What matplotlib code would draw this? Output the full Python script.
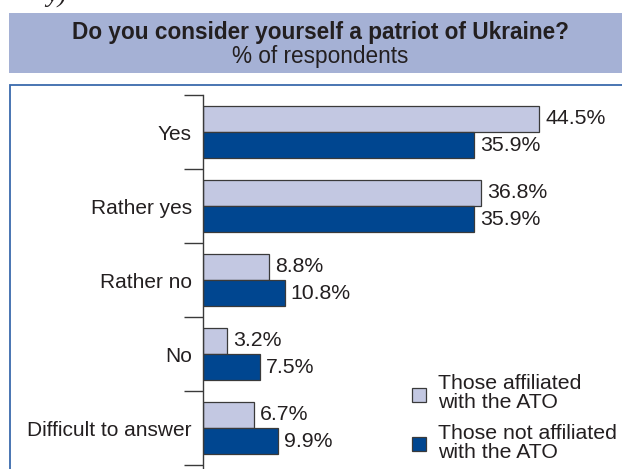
import matplotlib
matplotlib.use("Agg")
import matplotlib.pyplot as plt
from matplotlib.patches import Rectangle

# Survey data
categories = ["Yes", "Rather yes", "Rather no", "No", "Difficult to answer"]
affiliated = [44.5, 36.8, 8.8, 3.2, 6.7]
not_affiliated = [35.9, 35.9, 10.8, 7.5, 9.9]
series_labels = ["Those affiliated\nwith the ATO", "Those not affiliated\nwith the ATO"]
title = "Do you consider yourself a patriot of Ukraine?"
subtitle = "% of respondents"

LIGHT = "#C3C8E2"
DARK = "#004690"
EDGE = "#3a3a3a"
TEXT = "#231F20"
FONT = "Liberation Sans"

W, H = 622, 469
fig = plt.figure(figsize=(W / 100, H / 100), dpi=100)
plt.rcParams["font.family"] = FONT


def fx(px):
    return px / W


def fy(py):
    return 1 - py / H


# Header band
fig.add_artist(Rectangle((fx(9), fy(73)), fx(640) - fx(9), fy(13) - fy(73),
                         transform=fig.transFigure, facecolor="#A5B1D5",
                         edgecolor="none"))
fig.text(fx(320), fy(32.5), title, ha="center", va="center", fontsize=16.3,
         fontweight="bold", color=TEXT)
fig.text(fx(320), fy(56.5), subtitle, ha="center", va="center", fontsize=16.3,
         color=TEXT)

# Fragment of preceding page text
fig.text(fx(46), fy(3), "y)", ha="left", va="baseline", fontsize=19,
         family="Liberation Serif", style="italic", color=TEXT)

# Chart frame
fig.add_artist(Rectangle((fx(10), fy(490)), fx(700) - fx(10), fy(85.5) - fy(490),
                         transform=fig.transFigure, facecolor="none",
                         edgecolor="#3A6AAD", linewidth=1.3))

# Bar axes
ax_left, ax_top = 203, 95
ax = fig.add_axes([fx(ax_left), 0, fx(W) - fx(ax_left), fy(ax_top)])
ax.patch.set_alpha(0)
px_per_unit = 74
px_per_pct = 7.55
ax.set_ylim((H - ax_top) / px_per_unit, 0)
ax.set_xlim(0, (W - ax_left) / px_per_pct)

n = len(categories)
pos = list(range(n))
h = 0.355
ax.barh([p + 0.32 for p in pos], affiliated, height=h, color=LIGHT,
        edgecolor=EDGE, linewidth=0.9)
ax.barh([p + 0.68 for p in pos], not_affiliated, height=h, color=DARK,
        edgecolor=EDGE, linewidth=0.9)

for p, a, b in zip(pos, affiliated, not_affiliated):
    ax.text(a + 0.8, p + 0.32, f"{a:.1f}%", ha="left", va="center",
            fontsize=15.3, color=TEXT)
    ax.text(b + 0.8, p + 0.68, f"{b:.1f}%", ha="left", va="center",
            fontsize=15.3, color=TEXT)

for s in ("top", "right", "bottom"):
    ax.spines[s].set_visible(False)
ax.spines["left"].set_color(EDGE)
ax.spines["left"].set_linewidth(1.0)
ax.set_xticks([])
ax.set_yticks([p + 0.5 for p in pos])
ax.set_yticklabels(categories, fontsize=15, color=TEXT)
ax.tick_params(axis="y", which="major", length=0, pad=8)
ax.set_yticks(list(range(n + 1)), minor=True)
ax.tick_params(axis="y", which="minor", length=13.5, width=1.0, color=EDGE,
               direction="out")

# Legend
for (sy, ty), color, label in zip([(395, 393), (444, 443)], [LIGHT, DARK],
                                  series_labels):
    fig.add_artist(Rectangle((fx(412), fy(sy + 7)), fx(14), fy(0) - fy(14),
                             transform=fig.transFigure, facecolor=color,
                             edgecolor=EDGE, linewidth=0.9))
    fig.text(fx(438), fy(ty), label, ha="left", va="center", fontsize=15.3,
             color=TEXT, linespacing=0.95)

fig.savefig("out.png", dpi=100)
